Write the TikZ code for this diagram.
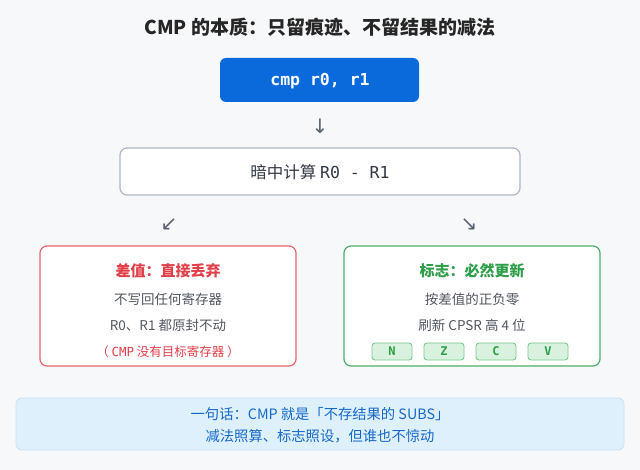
\documentclass[tikz,border=0pt]{standalone}
\usepackage{fontspec}
\setmainfont{Noto Sans CJK SC}
\newfontfamily\cjk{Noto Sans CJK SC}
\newfontfamily\monof{DejaVu Sans Mono}
\newfontfamily\symf{DejaVu Sans}
\definecolor{bg}{HTML}{F7F8FA}
\definecolor{blu}{HTML}{0A6ADB}
\definecolor{gbord}{HTML}{AEB6C4}
\definecolor{txt}{HTML}{333A44}
\definecolor{rd}{HTML}{E0404A}
\definecolor{rdb}{HTML}{E8656B}
\definecolor{gr}{HTML}{2E9E4A}
\definecolor{grb}{HTML}{4DB068}
\definecolor{chipf}{HTML}{D9F2DF}
\definecolor{chipb}{HTML}{7CC98F}
\definecolor{botf}{HTML}{DDF0FC}
\definecolor{botb}{HTML}{C4E2F6}
\definecolor{bott}{HTML}{1668C8}
\definecolor{arr}{HTML}{5A6270}
\begin{document}
\begin{tikzpicture}[x=1pt,y=-1pt,
 box/.style={rounded corners=7pt,line width=1.2pt},
 chip/.style={draw=chipb,fill=chipf,rounded corners=3pt,line width=0.9pt,minimum width=40pt,minimum height=17pt,inner sep=0pt,text=gr,font=\monof\bfseries\fontsize{12}{12}\selectfont},
 t/.style={inner sep=0pt,text=txt}]
\useasboundingbox (0,0) rectangle (640,470);
\fill[bg] (0,0) rectangle (640,470);
\node[t,font=\bfseries\fontsize{19}{19}\selectfont,text=black!85] (title) at (320,27) {CMP 的本质：只留痕迹、不留结果的减法};
\fill[blu,rounded corners=6pt] (220,58) rectangle (419,102);
\node[t,text=white,font=\monof\bfseries\fontsize{16.5}{16.5}\selectfont] (cmp) at (320,81) {cmp r0, r1};
\node[t,text=arr,font=\symf\fontsize{20}{20}\selectfont] (a1) at (320,126) {↓};
\draw[box,draw=gbord,fill=white] (120,148) rectangle (520,195);
\node[t,font=\fontsize{16.5}{16.5}\selectfont] (calc) at (320,172) {暗中计算 {\monof R0 - R1}};
\node[t,text=arr,font=\symf\fontsize{20}{20}\selectfont] (a2) at (169,225) {↙};
\node[t,text=arr,font=\symf\fontsize{20}{20}\selectfont] (a3) at (469,225) {↘};
\draw[box,draw=rdb,fill=white] (40,246) rectangle (296,366);
\node[t,text=rd,font=\bfseries\fontsize{15}{15}\selectfont] (lt) at (168,271) {差值：直接丢弃};
\node[t,text=txt!85,font=\fontsize{13.5}{14}\selectfont] (l1) at (168,299) {不写回任何寄存器};
\node[t,text=txt!85,font=\fontsize{13.5}{14}\selectfont] (l2) at (168,325) {R0、R1 都原封不动};
\node[t,text=rd,font=\fontsize{12.5}{13}\selectfont] (l3) at (168,352) {（ {\monof CMP} 没有目标寄存器 ）};
\draw[box,draw=grb,fill=white] (344,246) rectangle (600,366);
\node[t,text=gr,font=\bfseries\fontsize{15}{15}\selectfont] (rt) at (472,271) {标志：必然更新};
\node[t,text=txt!85,font=\fontsize{13.5}{14}\selectfont] (r1) at (472,299) {按差值的正负零};
\node[t,text=txt!85,font=\fontsize{13.5}{14}\selectfont] (r2) at (472,325) {刷新 CPSR 高 4 位};
\node[chip] (n) at (392,351.5) {N};
\node[chip] (z) at (444,351.5) {Z};
\node[chip] (c) at (496,351.5) {C};
\node[chip] (v) at (548,351.5) {V};
\draw[draw=botb,fill=botf,rounded corners=6pt,line width=0.8pt] (16,398) rectangle (624,450);
\node[t,text=bott,font=\fontsize{14.3}{14.3}\selectfont] (b1) at (320,414) {一句话：CMP 就是「不存结果的 SUBS」};
\node[t,text=bott,font=\fontsize{14.3}{14.3}\selectfont] (b2) at (320,436) {减法照算、标志照设，但谁也不惊动};
\end{tikzpicture}
\end{document}
